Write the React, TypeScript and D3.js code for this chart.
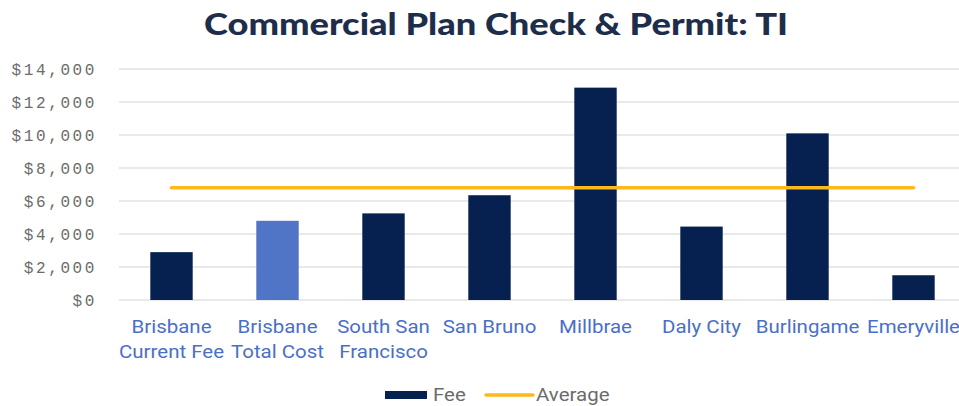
import React, { useEffect, useRef } from 'react';
import * as d3 from 'd3';

const cities = [
  'Brisbane Current Fee',
  'Brisbane Total Cost',
  'South San Francisco',
  'San Bruno',
  'Millbrae',
  'Daly City',
  'Burlingame',
  'Emeryville',
];
// wrapped label lines as in the original
const labelLines = [
  ['Brisbane', 'Current Fee'],
  ['Brisbane', 'Total Cost'],
  ['South San', 'Francisco'],
  ['San Bruno'],
  ['Millbrae'],
  ['Daly City'],
  ['Burlingame'],
  ['Emeryville'],
];
const fees = [2900, 4800, 5250, 6350, 12870, 4450, 10100, 1500];
const average = [6800, 6800, 6800, 6800, 6800, 6800, 6800, 6800];
const yTicks = [0, 2000, 4000, 6000, 8000, 10000, 12000, 14000];

const navy = '#06214f';
const highlight = '#5074c6';
const orange = '#ffb81c';
const stretch = 1.17; // labels in the original are a bit wide

const App = () => {
  const ref = useRef<SVGSVGElement>(null);

  useEffect(() => {
    const svg = d3.select(ref.current);
    svg.selectAll('*').remove();

    const x = d3.scaleBand<string>()
      .domain(cities)
      .range([118.5, 966.5])
      .paddingInner(0.6)
      .paddingOuter(0.3);

    const y = d3.scaleLinear().domain([0, 14000]).range([300, 69]);

    // title
    svg.append('text')
      .attr('x', 496)
      .attr('y', 35)
      .attr('text-anchor', 'middle')
      .attr('font-family', 'Lato, sans-serif')
      .attr('font-weight', 900)
      .attr('font-size', 30)
      .attr('textLength', 584)
      .attr('lengthAdjust', 'spacingAndGlyphs')
      .attr('fill', '#1d2d4a')
      .text('Commercial Plan Check & Permit: TI');

    // gridlines
    svg.append('g')
      .selectAll('line')
      .data(yTicks)
      .join('line')
      .attr('x1', 119)
      .attr('x2', 959)
      .attr('y1', d => y(d))
      .attr('y2', d => y(d))
      .attr('stroke', '#e2e2e2')
      .attr('stroke-width', 1.3);

    // y labels
    svg.append('g')
      .selectAll('text')
      .data(yTicks)
      .join('text')
      .attr('x', 97)
      .attr('y', d => y(d))
      .attr('dy', '0.36em')
      .attr('text-anchor', 'end')
      .attr('font-family', '"Liberation Mono", monospace')
      .attr('font-size', 16)
      .attr('letter-spacing', 2.6)
      .attr('fill', '#6b6b6b')
      .text(d => d3.format('$,')(d));

    // bars
    svg.append('g')
      .selectAll('rect')
      .data(fees)
      .join('rect')
      .attr('x', (d, i) => x(cities[i])!)
      .attr('y', d => y(d))
      .attr('width', x.bandwidth())
      .attr('height', d => y(0) - y(d))
      .attr('fill', (d, i) => (i === 1 ? highlight : navy));

    // average line
    const line = d3.line<number>()
      .x((d, i) => x(cities[i])! + x.bandwidth() / 2)
      .y(d => y(d));

    svg.append('path')
      .datum(average)
      .attr('d', line)
      .attr('fill', 'none')
      .attr('stroke', orange)
      .attr('stroke-width', 3.5)
      .attr('stroke-linecap', 'round');

    // x labels
    const xl = svg.append('g')
      .selectAll('g')
      .data(labelLines)
      .join('g')
      .attr('transform', (d, i) =>
        `translate(${x(cities[i])! + x.bandwidth() / 2},0) scale(${stretch},1)`)
      .append('text')
      .attr('x', 0)
      .attr('y', 333)
      .attr('text-anchor', 'middle')
      .attr('font-family', 'Roboto, sans-serif')
      .attr('font-size', 17.5)
      .attr('fill', '#4a6fc8');
    xl.selectAll('tspan')
      .data(d => d)
      .join('tspan')
      .attr('x', 0)
      .attr('dy', (d, i) => (i === 0 ? 0 : 25))
      .text(d => d);

    // legend
    const lg = svg.append('g');
    lg.append('rect')
      .attr('x', 385)
      .attr('y', 391)
      .attr('width', 42)
      .attr('height', 8)
      .attr('fill', navy);
    lg.append('g')
      .attr('transform', `translate(433,0) scale(${stretch},1)`)
      .append('text')
      .attr('y', 395)
      .attr('dy', '0.36em')
      .attr('font-family', 'Roboto, sans-serif')
      .attr('font-size', 17.5)
      .attr('fill', '#6b6b6b')
      .text('Fee');
    lg.append('line')
      .attr('x1', 486)
      .attr('x2', 533)
      .attr('y1', 395)
      .attr('y2', 395)
      .attr('stroke', orange)
      .attr('stroke-width', 3.5)
      .attr('stroke-linecap', 'round');
    lg.append('g')
      .attr('transform', `translate(536,0) scale(${stretch},1)`)
      .append('text')
      .attr('y', 395)
      .attr('dy', '0.36em')
      .attr('font-family', 'Roboto, sans-serif')
      .attr('font-size', 17.5)
      .attr('fill', '#6b6b6b')
      .text('Average');
  }, []);

  return (
    <svg
      ref={ref}
      width={959}
      height={406}
      style={{ position: 'absolute', left: 0, top: 0, background: '#fff' }}
    />
  );
};

export default App;
